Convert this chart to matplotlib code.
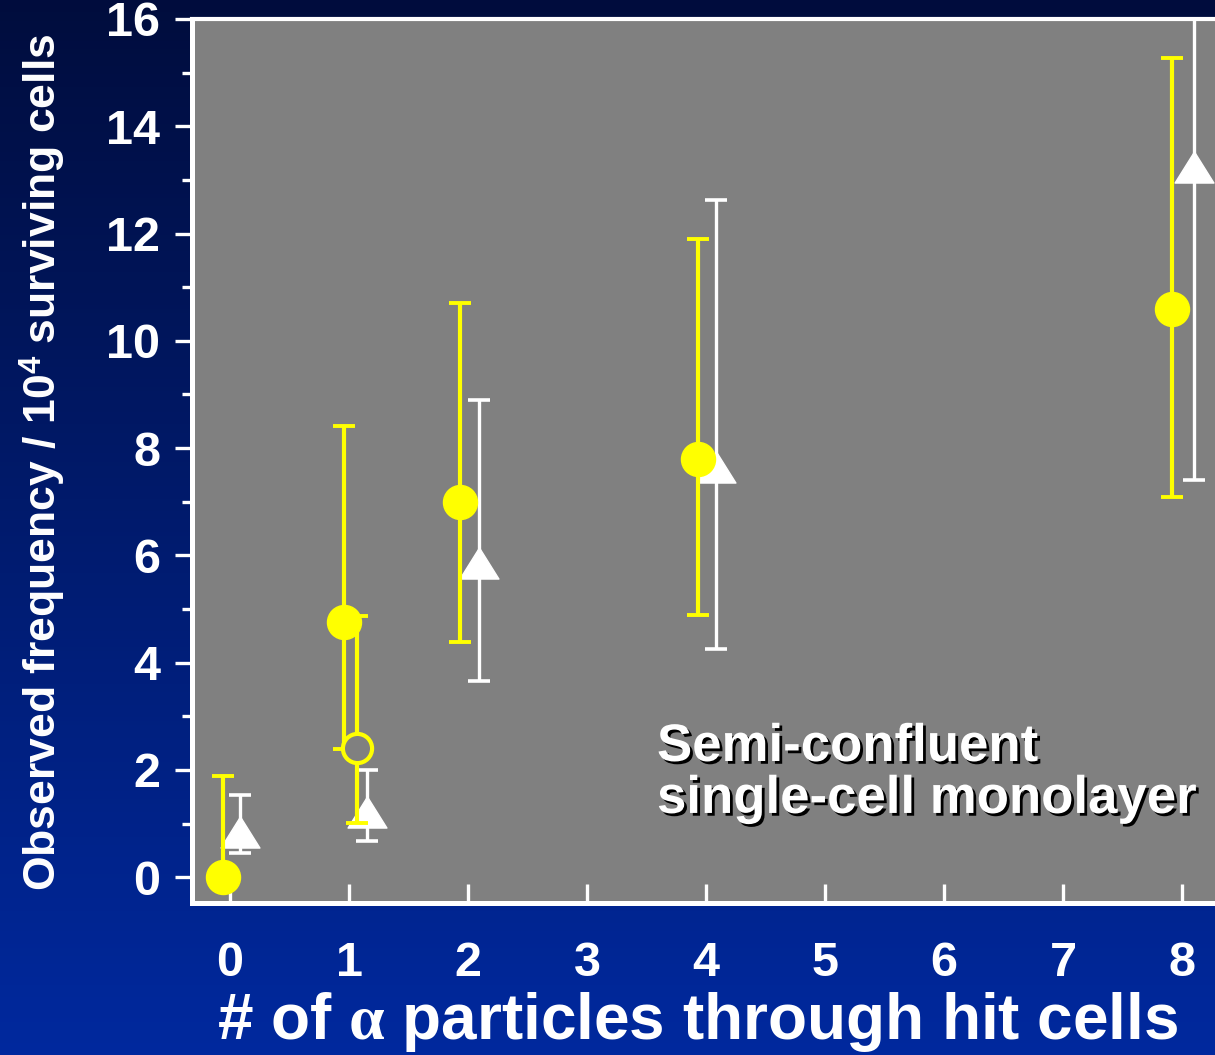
import numpy as np
import matplotlib
matplotlib.use("Agg")
import matplotlib.pyplot as plt
from matplotlib.path import Path
import matplotlib.patheffects as pe

# ---- data ----
hits = [0, 1, 2, 4, 8]
tick_vals = [0, 1, 2, 3, 4, 5, 6, 7, 8]
ytick_vals = [0, 2, 4, 6, 8, 10, 12, 14, 16]

yellow_val = [0.0, 4.76, 7.0, 7.80, 10.60]
yellow_lo = [0.0, 2.39, 4.38, 4.89, 7.09]
yellow_hi = [1.88, 8.41, 10.71, 11.90, 15.28]

open_hits = [1]
open_val = [2.41]
open_lo = [1.01]
open_hi = [4.87]

white_val = [0.84, 1.21, 5.86, 7.65, 13.25]
white_lo = [0.45, 0.67, 3.66, 4.25, 7.41]
white_hi = [1.53, 2.00, 8.90, 12.63, 18.5]

# ---- style offsets (horizontal dodge) ----
yellow_dx = [-0.06, -0.04, -0.07, -0.07, -0.08]
open_dx = [0.07]
white_dx = [0.08, 0.15, 0.09, 0.08, 0.10]

plt.rcParams['font.family'] = ['Liberation Sans', 'DejaVu Sans']
plt.rcParams['font.weight'] = 'bold'
plt.rcParams['mathtext.fontset'] = 'custom'
plt.rcParams['mathtext.rm'] = 'Liberation Serif'
plt.rcParams['mathtext.bf'] = 'Liberation Sans:bold'
plt.rcParams['mathtext.it'] = 'Liberation Serif:italic'

W, H = 1215, 1055
fig = plt.figure(figsize=(W / 100, H / 100), dpi=100)

# gradient background
bg = fig.add_axes([0, 0, 1, 1], zorder=-10)
top = np.array([0.0, 0.05, 0.24])
bot = np.array([0.0, 0.16, 0.62])
t = np.linspace(0, 1, 256)[:, None]
grad = top[None, :] * (1 - t) + bot[None, :] * t
bg.imshow(grad[:, None, :], aspect='auto', extent=[0, 1, 0, 1])
bg.set_axis_off()

ax_w = 1 - 192 / W + 0.01
ax = fig.add_axes([192 / W, 1 - 903 / H, ax_w, (903 - 19) / H])
ax.set_facecolor('#808080')
ax.set_xlim(-0.32, 8.38)
ax.set_ylim(-0.48, 16)

tri = Path([(0, 0.8), (-1, -0.8), (1, -0.8), (0, 0.8)],
           [Path.MOVETO, Path.LINETO, Path.LINETO, Path.CLOSEPOLY])

# white triangles
wx = [h + d for h, d in zip(hits, white_dx)]
werr = [[v - l for v, l in zip(white_val, white_lo)],
        [h - v for v, h in zip(white_val, white_hi)]]
ax.errorbar(wx, white_val, yerr=werr, fmt='none', ecolor='white',
            elinewidth=2.4, capsize=8, capthick=2.6, zorder=3)
ax.plot(wx, white_val, linestyle='none', marker=tri, markersize=28,
        color='white', zorder=4)

# yellow filled circles
yx = [h + d for h, d in zip(hits, yellow_dx)]
yerr = [[v - l for v, l in zip(yellow_val, yellow_lo)],
        [h - v for v, h in zip(yellow_val, yellow_hi)]]
ax.errorbar(yx, yellow_val, yerr=yerr, fmt='none', ecolor='#ffff00',
            elinewidth=3.0, capsize=8, capthick=2.8, zorder=5)
ax.plot(yx, yellow_val, linestyle='none', marker='o', markersize=24.5,
        color='#ffff00', zorder=6, clip_on=False)

# open circle
ox = [h + d for h, d in zip(open_hits, open_dx)]
oerr = [[v - l for v, l in zip(open_val, open_lo)],
        [h - v for v, h in zip(open_val, open_hi)]]
ax.errorbar(ox, open_val, yerr=oerr, fmt='none', ecolor='#ffff00',
            elinewidth=3.0, capsize=8, capthick=2.8, zorder=7)
ax.plot(ox, open_val, linestyle='none', marker='o', markersize=21,
        markerfacecolor='#808080', markeredgecolor='#ffff00',
        markeredgewidth=3.0, zorder=8)

# spines
for s in ['left', 'bottom']:
    ax.spines[s].set_color('white')
    ax.spines[s].set_linewidth(3.6)
ax.spines['top'].set_color('white')
ax.spines['top'].set_linewidth(3.0)
ax.spines['right'].set_visible(False)

ax.set_xticks(tick_vals)
ax.set_xticklabels([str(v) for v in tick_vals])
ax.set_yticks(ytick_vals)
ax.set_yticklabels([str(v) for v in ytick_vals])
ax.set_yticks([1, 3, 5, 7, 9, 11, 13, 15], minor=True)

ax.tick_params(axis='x', direction='in', length=14, width=2.4, color='white',
               labelcolor='white', labelsize=35, pad=27)
ax.tick_params(axis='y', which='major', direction='out', length=12, width=2.4,
               color='white', labelcolor='white', labelsize=35, pad=11)
ax.tick_params(axis='y', which='minor', direction='out', length=7, width=2.4,
               color='white')
for lab in ax.get_xticklabels() + ax.get_yticklabels():
    lab.set_fontweight('bold')

ax.set_xlabel(r'# of $\mathrm{\alpha}$ particles through hit cells',
              color='white', fontsize=46, fontweight='bold')
ax.xaxis.label.set_va('center')
ax.xaxis.set_label_coords((698 - 192) / (ax_w * W), -0.135)
ax.set_ylabel(r'Observed frequency / 10$^\mathbf{4}$ surviving cells',
              color='white', fontsize=32, fontweight='bold')
ax.yaxis.label.set_va('center')
ax.yaxis.set_label_coords((42 - 192) / (ax_w * W), 0.499)

txt = ax.text((657 - 192) / (ax_w * W), (903 - 722) / 884,
              'Semi-confluent\nsingle-cell monolayer',
              transform=ax.transAxes, color='white', fontsize=38,
              fontweight='bold', ha='left', va='top', linespacing=1.05,
              zorder=10)
txt.set_path_effects([pe.withSimplePatchShadow(offset=(2, -2),
                                               shadow_rgbFace='black',
                                               alpha=1.0)])

fig.savefig('out.png', dpi=100)
